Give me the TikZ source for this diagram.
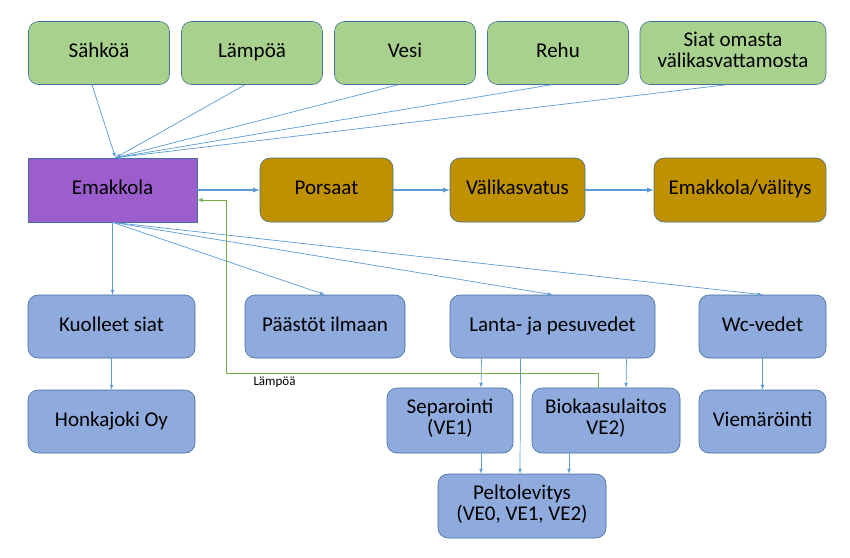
\documentclass[tikz,border=0pt]{standalone}
\usepackage{fontspec}
\setmainfont{Carlito}
\usepackage{tikz}
\usetikzlibrary{calc,arrows,positioning}
\definecolor{boxline}{HTML}{41719C}
\definecolor{arrowblue}{HTML}{5B9BD5}
\definecolor{heatgreen}{HTML}{70AD47}
\tikzset{flow/.style={arrowblue,line width=.7pt,-latex},heat/.style={heatgreen,line width=.8pt,-latex}}

\begin{document}
\begin{tikzpicture}[x=1pt,y=-1pt,font=\fontsize{21}{24}\selectfont]

\tikzset{greenbox/.style={fill={rgb,255:red,169;green,209;blue,142},draw=boxline,line width=.6pt,rounded corners=10pt,minimum width=141pt,minimum height=63pt,inner sep=2pt,align=center,execute at begin node=\strut},
purplebox/.style={fill={rgb,255:red,156;green,94;blue,204},draw=boxline,line width=.6pt,minimum width=169pt,minimum height=64pt,inner sep=2pt,execute at begin node=\strut},
goldbox/.style={fill={rgb,255:red,191;green,144;blue,0},draw=boxline,line width=.6pt,rounded corners=10pt,minimum height=64pt,inner sep=2pt,execute at begin node=\strut},
bluebox/.style={fill={rgb,255:red,143;green,170;blue,220},draw=boxline,line width=.6pt,rounded corners=10pt,minimum height=63pt,inner sep=2pt,align=center,execute at begin node=\strut}}

\useasboundingbox (0,0) rectangle (850,557);

% Inputs
\node[greenbox] (sahko) at (99,53) {Sähköä};
\node[greenbox] (lampo) at (252,53) {Lämpöä};
\node[greenbox] (vesi) at (405,53) {Vesi};
\node[greenbox] (rehu) at (558,53) {Rehu};
\node[greenbox,minimum width=186pt] (siat) at (733,53) {Siat omasta\\[-3pt]välikasvattamosta};

% Main chain
\node[purplebox] (emakkola) at (112.5,190) {Emakkola};
\node[goldbox,minimum width=133pt] (porsaat) at (326.5,190) {Porsaat};
\node[goldbox,minimum width=135pt] (valikasvatus) at (517.5,190) {Välikasvatus};
\node[goldbox,minimum width=172pt] (valitys) at (740,190) {Emakkola/välitys};

% Outputs
\node[bluebox,minimum width=167pt] (kuolleet) at (111.5,326.5) {Kuolleet siat};
\node[bluebox,minimum width=160pt] (paastot) at (325,326.5) {Päästöt ilmaan};
\node[bluebox,minimum width=205pt] (lanta) at (552.5,326.5) {Lanta- ja pesuvedet};
\node[bluebox,minimum width=127pt] (wc) at (762.5,326.5) {Wc-vedet};

% Treatment
\node[bluebox,minimum width=167pt] (honkajoki) at (111.5,421.5) {Honkajoki Oy};
\node[bluebox,minimum width=126pt,minimum height=65pt] (separointi) at (450,420.5) {Separointi\\[-3pt](VE1)};
\node[bluebox,minimum width=148pt,minimum height=65pt] (biokaasu) at (606,420.5) {Biokaasulaitos\\[-3pt]VE2)};
\node[bluebox,minimum width=127pt] (viemarointi) at (762.5,421.5) {Viemäröinti};
\node[bluebox,minimum width=168pt,minimum height=64pt] (pelto) at (522,506) {Peltolevitys\\[-3pt](VE0, VE1, VE2)};

% Inputs to Emakkola
\foreach \n in {sahko,lampo,vesi,rehu,siat} \draw[flow] ($(\n.south)+(-7,0)$) -- ($(emakkola.north)+(3,0)$);

% Chain
\draw[flow,line width=1.3pt] (emakkola) -- (porsaat);
\draw[flow,line width=1.3pt] (porsaat) -- (valikasvatus);
\draw[flow,line width=1.3pt] (valikasvatus) -- (valitys);

% Outputs from Emakkola
\draw[flow] (emakkola.south) -- (kuolleet.north -| emakkola.south);
\foreach \n in {paastot,lanta,wc} \draw[flow] (emakkola.south) -- (\n.north);
\draw[flow] (kuolleet) -- (honkajoki);
\draw[flow] (wc) -- (viemarointi);

% Manure handling
\draw[flow] ($(lanta.south)+(-71,0)$) -- ($(separointi.north)+(31,0)$);
\draw[flow] ($(lanta.south)+(-32,0)$) -- ($(pelto.north)+(-2,0)$);
\draw[flow] ($(lanta.south)+(74,0)$) -- ($(biokaasu.north)+(20,0)$);
\draw[flow] ($(separointi.south)+(31,0)$) -- ($(pelto.north)+(-41,0)$);
\draw[flow] ($(biokaasu.south)+(-37,0)$) -- ($(pelto.north)+(47,0)$);

% Heat back to Emakkola
\coordinate (heatturn) at (226,373);
\draw[heat] ($(biokaasu.north)+(-8,0)$) |- (heatturn) |- ($(emakkola.east)+(0,10)$);
\node[font=\fontsize{13}{15}\selectfont,anchor=north west] (heatlabel) at (250,373) {Lämpöä};

\end{tikzpicture}
\end{document}
